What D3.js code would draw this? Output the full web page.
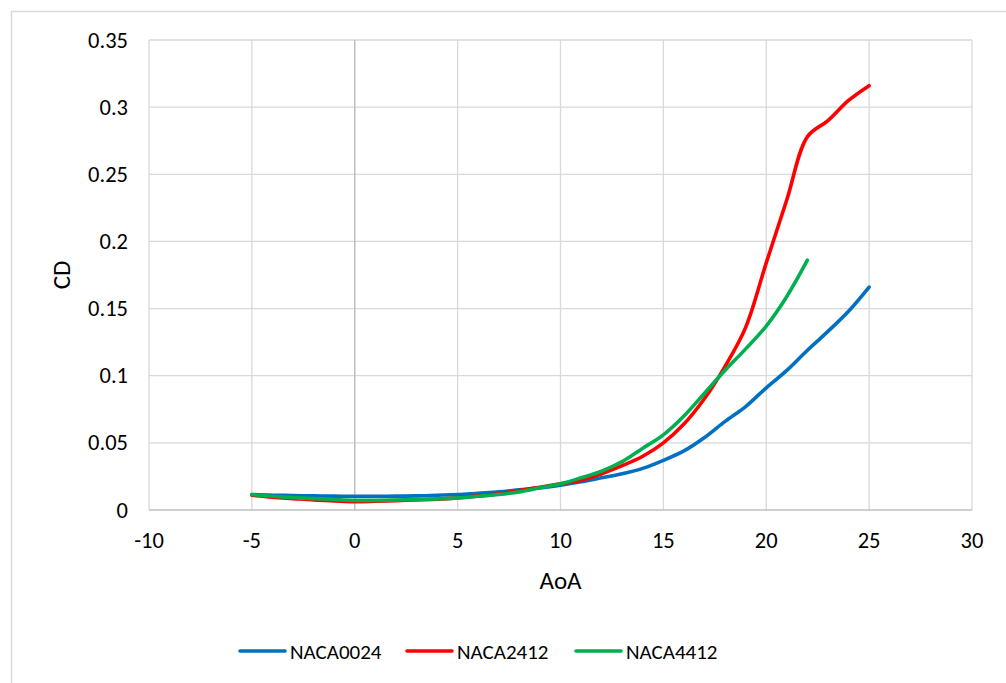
<!DOCTYPE html>
<html>
<head>
<meta charset="utf-8">
<script src="https://cdn.jsdelivr.net/npm/d3@7"></script>
<style>
  body { margin: 0; background: #fff; }
  text { font-family: Carlito, "Liberation Sans", "Noto Sans", sans-serif; fill: #000; }
</style>
</head>
<body>
<svg id="chart" width="1006" height="683"></svg>
<script>
const seriesNames = ["NACA0024", "NACA2412", "NACA4412"];
const seriesColors = ["#0070c0", "#ff0000", "#00b050"];

const aoaBlue = [-5,-4,-3,-2,-1,0,1,2,3,4,5,6,7,8,9,10,11,12,13,14,15,16,17,18,19,20,21,22,23,24,25];
const cdNACA0024 = [0.0115,0.011,0.0108,0.0105,0.0103,0.0102,0.0102,0.0103,0.0105,0.011,0.0115,0.0125,0.0135,0.015,0.0165,0.0185,0.021,0.024,0.027,0.031,0.037,0.044,0.054,0.066,0.077,0.091,0.104,0.119,0.133,0.148,0.166];

const aoaRed = [-5,-4,-3,-2,-1,0,1,2,3,4,5,6,7,8,9,10,11,12,13,14,15,16,17,18,19,20,21,22,23,24,25];
const cdNACA2412 = [0.011,0.0095,0.0085,0.0075,0.0068,0.0062,0.0065,0.007,0.0075,0.008,0.009,0.0105,0.012,0.0145,0.017,0.0195,0.022,0.027,0.033,0.04,0.05,0.064,0.083,0.107,0.136,0.184,0.231,0.278,0.29,0.305,0.316];

const aoaGreen = [-5,-4,-3,-2,-1,0,1,2,3,4,5,6,7,8,9,10,11,12,13,14,15,16,17,18,19,20,21,22];
const cdNACA4412 = [0.0115,0.0102,0.0092,0.0085,0.0078,0.0072,0.0072,0.0074,0.0078,0.0083,0.009,0.0102,0.0115,0.0135,0.0165,0.0195,0.024,0.029,0.036,0.046,0.056,0.07,0.087,0.104,0.12,0.137,0.159,0.186];

const xTicks = [-10,-5,0,5,10,15,20,25,30];
const yTicks = [0,0.05,0.1,0.15,0.2,0.25,0.3,0.35];
const yTickLabels = ["0","0.05","0.1","0.15","0.2","0.25","0.3","0.35"];

const svg = d3.select("#chart");
const L = 149, R = 972, T = 40, B = 510;
const x = d3.scaleLinear().domain([-10, 30]).range([L, R]);
const y = d3.scaleLinear().domain([0, 0.35]).range([B, T]);

// outer chart border (top and left visible)
svg.append("line").attr("x1", 11).attr("x2", 1006).attr("y1", 11.5).attr("y2", 11.5)
  .attr("stroke", "#d9d9d9").attr("stroke-width", 1.5);
svg.append("line").attr("x1", 11.5).attr("x2", 11.5).attr("y1", 11).attr("y2", 683)
  .attr("stroke", "#d9d9d9").attr("stroke-width", 1.5);

// gridlines
const grid = svg.append("g");
grid.selectAll(".vg").data(xTicks.filter(d => d !== 0)).join("line")
  .attr("x1", d => x(d)).attr("x2", d => x(d)).attr("y1", T).attr("y2", B)
  .attr("stroke", "#d9d9d9").attr("stroke-width", 1.3);
grid.selectAll(".hg").data(yTicks.filter(d => d !== 0)).join("line")
  .attr("x1", L).attr("x2", R).attr("y1", d => y(d)).attr("y2", d => y(d))
  .attr("stroke", "#d9d9d9").attr("stroke-width", 1.3);

// axes lines
svg.append("line").attr("x1", x(0)).attr("x2", x(0)).attr("y1", T).attr("y2", B)
  .attr("stroke", "#bfbfbf").attr("stroke-width", 1.5);
svg.append("line").attr("x1", L).attr("x2", R).attr("y1", B).attr("y2", B)
  .attr("stroke", "#bfbfbf").attr("stroke-width", 1.5);

// tick labels
svg.append("g").selectAll("text").data(xTicks).join("text")
  .attr("x", d => x(d)).attr("y", 548)
  .attr("text-anchor", "middle").attr("font-size", 22.5)
  .text(d => d);
svg.append("g").selectAll("text").data(yTicks).join("text")
  .attr("x", 128).attr("y", d => y(d) + 7.5)
  .attr("text-anchor", "end").attr("font-size", 22.5)
  .text((d, i) => yTickLabels[i]);

// axis titles
svg.append("text").attr("x", x(10)).attr("y", 589).attr("text-anchor", "middle")
  .attr("font-size", 25).text("AoA");
svg.append("text").attr("transform", `translate(70, ${(T + B) / 2}) rotate(-90)`)
  .attr("text-anchor", "middle").attr("font-size", 25).text("CD");

// series
const allSeries = [
  { name: seriesNames[0], xs: aoaBlue, ys: cdNACA0024, color: seriesColors[0] },
  { name: seriesNames[1], xs: aoaRed, ys: cdNACA2412, color: seriesColors[1] },
  { name: seriesNames[2], xs: aoaGreen, ys: cdNACA4412, color: seriesColors[2] }
];
const line = d3.line().x(d => x(d[0])).y(d => y(d[1])).curve(d3.curveCatmullRom.alpha(0.5));
svg.append("g").selectAll("path").data(allSeries).join("path")
  .attr("d", s => line(s.xs.map((v, i) => [v, s.ys[i]])))
  .attr("fill", "none").attr("stroke", s => s.color)
  .attr("stroke-width", 3.6).attr("stroke-linecap", "round").attr("stroke-linejoin", "round");

// legend
const legendX = [240, 407, 576];
const lg = svg.append("g").selectAll("g").data(allSeries).join("g")
  .attr("transform", (s, i) => `translate(${legendX[i]}, 651)`);
lg.append("line").attr("x1", 0).attr("x2", 45).attr("y1", 0).attr("y2", 0)
  .attr("stroke", s => s.color).attr("stroke-width", 3.6).attr("stroke-linecap", "round");
lg.append("text").attr("x", 50).attr("y", 8).attr("font-size", 21).text(s => s.name);
</script>
</body>
</html>
